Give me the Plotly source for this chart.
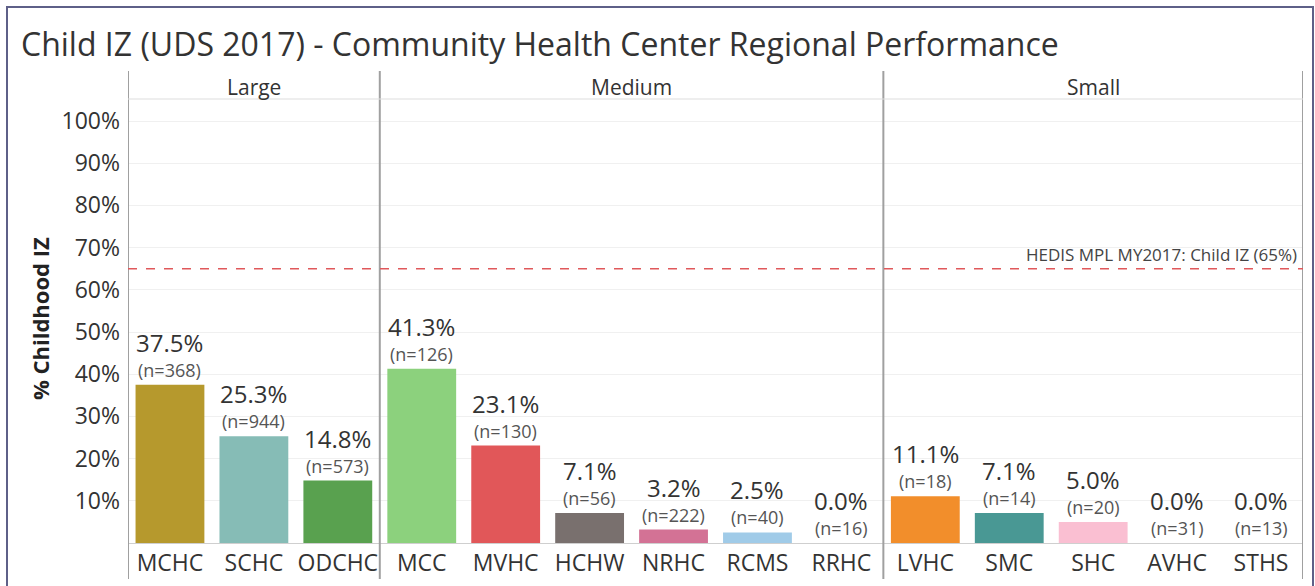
import plotly.graph_objects as go

categories = ["MCHC", "SCHC", "ODCHC", "MCC", "MVHC", "HCHW", "NRHC", "RCMS", "RRHC",
              "LVHC", "SMC", "SHC", "AVHC", "STHS"]
groups = ["Large"] * 3 + ["Medium"] * 6 + ["Small"] * 5
values = [37.5, 25.3, 14.8, 41.3, 23.1, 7.1, 3.2, 2.5, 0.0, 11.1, 7.1, 5.0, 0.0, 0.0]
n_counts = [368, 944, 573, 126, 130, 56, 222, 40, 16, 18, 14, 20, 31, 13]
colors = ["#B6992D", "#86BCB6", "#59A14F", "#8CD17D", "#E15759", "#79706E", "#D37295",
          "#A0CBE8", "#BAB0AC", "#F28E2B", "#499894", "#FABFD2", "#4E79A7", "#D4A6C8"]
group_names = ["Large", "Medium", "Small"]
target_value = 65
target_label = "HEDIS MPL MY2017: Child IZ (65%)"
y_ticks = [10, 20, 30, 40, 50, 60, 70, 80, 90, 100]
y_tick_labels = [f"{t}%" for t in y_ticks]

FONT = "Open Sans"
W, H = 1315, 586
L, R, T, B = 128, 12, 99, 43
PW, PH = W - L - R, H - T - B


def px_x(px):
    return (px - L) / PW


def px_y(py):
    return (H - B - py) / PH


fig = go.Figure()
fig.add_trace(go.Bar(
    x=categories, y=values, marker=dict(color=colors, line=dict(width=0)),
    width=0.82, hoverinfo="skip", showlegend=False,
))

# bar labels
for c, v, n in zip(categories, values, n_counts):
    fig.add_annotation(x=c, y=v, text=f"(n={n})", showarrow=False, yanchor="bottom",
                       yshift=1, font=dict(family=FONT, size=18, color="#555555"))
    fig.add_annotation(x=c, y=v, text=f"{v:.1f}%", showarrow=False, yanchor="bottom",
                       yshift=24, font=dict(family=FONT, size=24, color="#333333"))

# group headers and dividers
bounds = []
start = 0
for g in group_names:
    cnt = groups.count(g)
    bounds.append((start, start + cnt))
    start += cnt
for g, (s, e) in zip(group_names, bounds):
    fig.add_annotation(x=(s + e - 1) / 2, xref="x", y=px_y(87), yref="paper",
                       text=g, showarrow=False, yanchor="middle",
                       font=dict(family=FONT, size=21, color="#333333"))
div_positions = [-0.5] + [e - 0.5 for (_, e) in bounds]
for xd in div_positions:
    fig.add_shape(type="line", xref="x", yref="paper", x0=xd, x1=xd,
                  y0=px_y(579), y1=px_y(71), line=dict(color="#a0a0a0", width=2))

# header bottom line
fig.add_shape(type="line", xref="paper", yref="paper", x0=0, x1=1, y0=1, y1=1,
              line=dict(color="#dddddd", width=1))

# reference line
fig.add_shape(type="line", xref="paper", yref="y", x0=0, x1=1, y0=target_value,
              y1=target_value, line=dict(color="#E0585B", width=1.5, dash="dash"))
fig.add_annotation(x=1, xref="paper", y=target_value, yref="y", text=target_label,
                   showarrow=False, xanchor="right", yanchor="bottom", xshift=-4, yshift=1,
                   font=dict(family=FONT, size=17, color="#444444"))

# y-axis title
fig.add_annotation(x=px_x(40), xref="paper", y=px_y(319), yref="paper",
                   text="<b>% Childhood IZ</b>", textangle=-90, showarrow=False,
                   xanchor="center", yanchor="middle",
                   font=dict(family=FONT, size=22, color="#222222"))

# outer frame
fig.add_shape(type="rect", xref="paper", yref="paper", x0=px_x(7), x1=px_x(1313),
              y0=px_y(596), y1=px_y(7), line=dict(color="#5E6088", width=2),
              fillcolor="rgba(0,0,0,0)", layer="above")

fig.update_layout(
    width=W, height=H,
    margin=dict(l=L, r=R, t=T, b=B, autoexpand=False),
    paper_bgcolor="white", plot_bgcolor="white",
    title=dict(text="Child IZ (UDS 2017) - Community Health Center Regional Performance",
               x=21 / W, xanchor="left", xref="container", y=1 - 44.5 / H, yanchor="middle",
               font=dict(family=FONT, size=32, color="#333333")),
    bargap=0.18,
    xaxis=dict(type="category", categoryorder="array", categoryarray=categories,
               range=[-0.5, len(categories) - 0.5], showgrid=False, zeroline=False,
               showline=False, ticks="", ticklabelstandoff=4, automargin=False,
               tickfont=dict(family=FONT, size=23, color="#333333")),
    yaxis=dict(range=[0, (H - B - T) / 42.2 * 10], tickvals=y_ticks, ticktext=y_tick_labels,
               showgrid=True, gridcolor="#f0f0f0", gridwidth=1, zeroline=True,
               zerolinecolor="#cfcfcf", zerolinewidth=1, showline=False, ticks="",
               ticklabelstandoff=7, automargin=False,
               tickfont=dict(family=FONT, size=23, color="#333333")),
)

fig.write_html("out.html", config={"displayModeBar": False},
               post_script="document.body.style.margin='0';")
